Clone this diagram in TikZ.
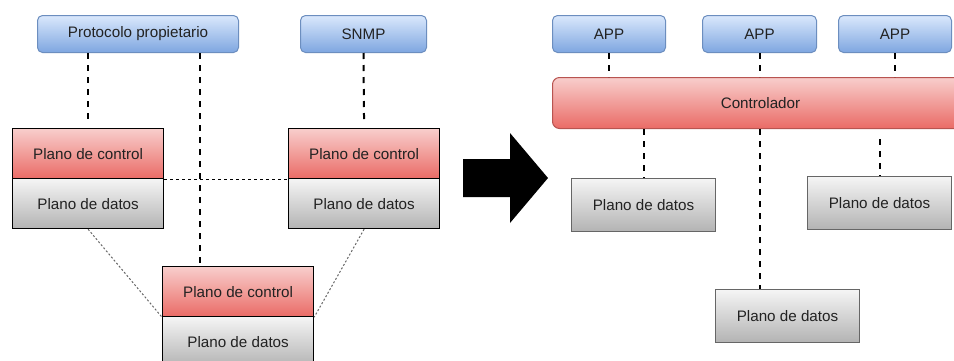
\documentclass[tikz,border=0pt]{standalone}
\usepackage{fontspec}
\setmainfont{Liberation Sans}
\usetikzlibrary{calc}
\definecolor{bluetop}{HTML}{DAE8FC}
\definecolor{bluebot}{HTML}{7EA6E0}
\definecolor{blueline}{HTML}{6C8EBF}
\definecolor{redtop}{HTML}{F8CECC}
\definecolor{redbot}{HTML}{EA6B66}
\definecolor{redline}{HTML}{B85450}
\definecolor{graytop}{HTML}{F5F5F5}
\definecolor{graybot}{HTML}{B3B3B3}
\definecolor{grayline}{HTML}{666666}
\definecolor{txt}{HTML}{222222}
\tikzset{
  base/.style={anchor=north west, inner sep=0pt, font=\fontsize{15.2}{17}\selectfont, text=txt},
  appbox/.style={base, rounded corners=5pt, draw=blueline, line width=1pt,
    top color=bluetop, bottom color=bluebot},
  ctlbox/.style={base, draw=black, line width=1.2pt, top color=redtop, bottom color=redbot,
    minimum width=151pt, minimum height=50pt},
  datbox/.style={base, draw=black, line width=1.2pt, top color=graytop, bottom color=graybot,
    minimum width=151pt, minimum height=50pt},
  datbox2/.style={base, draw=grayline, line width=1pt, top color=graytop, bottom color=graybot,
    minimum width=144pt, minimum height=53pt},
  ctrlbar/.style={base, rounded corners=7pt, draw=redline, line width=1pt,
    top color=redtop, bottom color=redbot},
  link/.style={line width=2pt, dash pattern=on 6pt off 6pt},
  peer/.style={line width=1pt, dash pattern=on 3pt off 3pt},
  dotlink/.style={line width=1pt, draw=grayline, dash pattern=on 2pt off 2pt},
}
\begin{document}
\begin{tikzpicture}[x=1pt,y=-1pt]
\useasboundingbox (0,0) rectangle (954,360);
\clip (0,0) rectangle (954,360);
\fill[white] (0,0) rectangle (954,360);

% --- distributed control plane ---
\node[appbox, minimum width=201pt, minimum height=37pt] (proto) at (37,15) {Protocolo propietario};
\node[appbox, minimum width=126pt, minimum height=37pt] (snmp) at (300,15) {SNMP};

\node[ctlbox] (lc) at (12,128) {Plano de control};
\node[datbox] (ld) at (12,178) {Plano de datos};
\node[ctlbox] (rc) at (288,128) {Plano de control};
\node[datbox] (rd) at (288,178) {Plano de datos};
\node[ctlbox] (bc) at (162,266) {Plano de control};
\node[datbox] (bd) at (162,316) {Plano de datos};

\draw[link, shorten >=8pt] (proto.south -| lc.north) -- (lc.north);
\draw[link, shorten >=8pt] (snmp.south) -- (rc.north);
\draw[link] ([xshift=38pt]bc.north west |- proto.south) -- ([xshift=38pt]bc.north west);
\draw[peer] (lc.south east) -- (rc.south west);
\draw[dotlink] (ld.south) -- (bc.south west);
\draw[dotlink] (rd.south) -- (bc.south east);

% --- transition arrow ---
\fill[black] (463,159) -- (510,159) -- (510,133) -- (548,178) -- (510,223) -- (510,197) -- (463,197) -- cycle;

% --- centralised controller ---
\node[appbox, minimum width=113pt, minimum height=37pt] (a1) at (552,15) {APP};
\node[appbox, minimum width=114pt, minimum height=37pt] (a2) at (702,15) {APP};
\node[appbox, minimum width=113pt, minimum height=37pt] (a3) at (838,15) {APP};
\node[ctrlbar, minimum width=416pt, minimum height=51pt] (ctrl) at (552,77) {Controlador};

\node[datbox2] (d1) at (571,178) {Plano de datos};
\node[datbox2] (d2) at (715,289) {Plano de datos};
\node[datbox2] (d3) at (807,176) {Plano de datos};

\draw[link] (a1.south) -- (a1.south |- ctrl.north);
\draw[link] (a2.south) -- (a2.south |- ctrl.north);
\draw[link] (a3.south) -- (a3.south |- ctrl.north);
\draw[link] (d1.north |- ctrl.south) -- (d1.north);
\draw[link] (a2.south |- ctrl.south) -- (a2.south |- d2.north);
\draw[link, shorten <=10pt] (d3.north |- ctrl.south) -- (d3.north);
\end{tikzpicture}
\end{document}
